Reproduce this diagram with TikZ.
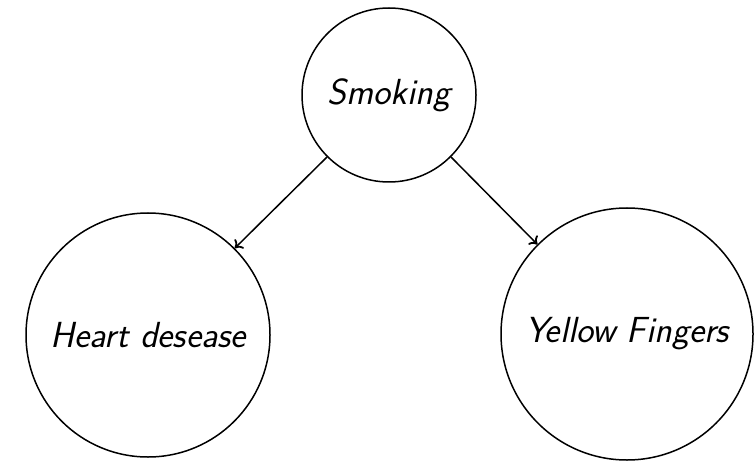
\documentclass[tikz,border=0pt]{standalone}
\usetikzlibrary{arrows.meta}
\begin{document}
\begin{tikzpicture}[x=1pt,y=1pt,
  var/.style={draw,circle,inner sep=0pt,line width=1.5pt,font=\fontsize{36.3}{43}\selectfont\sffamily\itshape},
  edge/.style={-{To[length=7pt,width=13pt,line width=1.8pt]},line width=1.5pt}]
\useasboundingbox (0,0) rectangle (754,461);
\node[var,minimum size=174pt] (s) at (389,366) {Smoking};
\node[var,minimum size=244pt] (h) at (148,126) {Heart desease};
\node[var,minimum size=252pt] (y) at (627,127) {Yellow Fingers};
\draw[edge] (s.south west) -- (h.north east);
\draw[edge] (s.south east) -- (y.north west);
\end{tikzpicture}
\end{document}
